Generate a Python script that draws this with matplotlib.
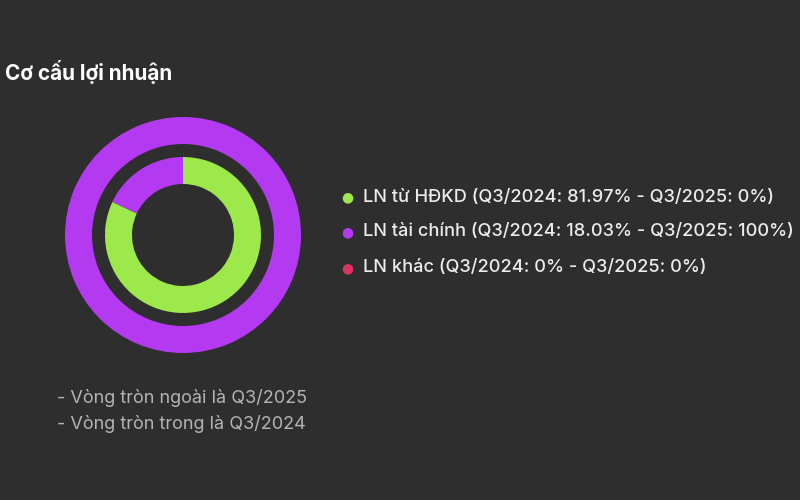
import matplotlib
matplotlib.use("Agg")
import matplotlib.pyplot as plt

plt.rcParams['font.family'] = ['Inter', 'DejaVu Sans']

# data
categories = ["LN từ HĐKD", "LN tài chính", "LN khác"]
q3_2024 = [81.97, 18.03, 0.0]
q3_2025 = [0.0, 100.0, 0.0]
colors = ["#9de84a", "#b43af2", "#e0325e"]
title = "Cơ cấu lợi nhuận"
notes = ["- Vòng tròn ngoài là Q3/2025", "- Vòng tròn trong là Q3/2024"]

BG = "#2e2e2e"
W, H = 800, 500

fig = plt.figure(figsize=(W / 100, H / 100), dpi=100)
fig.patch.set_facecolor(BG)

# donut axes: center (183, 235) px, radius 118 px
cx, cy, r = 183, 235, 118
ax = fig.add_axes([(cx - r) / W, (H - cy - r) / H, 2 * r / W, 2 * r / H])
ax.set_facecolor(BG)

ring_w = 27 / r
ax.pie(q3_2025, colors=colors, radius=1.0, startangle=90, counterclock=False,
       wedgeprops=dict(width=ring_w, linewidth=0))
ax.pie(q3_2024, colors=colors, radius=78 / r, startangle=90, counterclock=False,
       wedgeprops=dict(width=ring_w, linewidth=0))
ax.set_xlim(-1, 1)
ax.set_ylim(-1, 1)
ax.set_aspect("equal")
ax.axis("off")

fig.text(5 / W, 1 - 72 / H, title, color="white", fontsize=14.9,
         fontweight="bold", va="center", ha="left")

# legend
leg_y = [197, 232, 268]
for name, a, b, c, y in zip(categories, q3_2024, q3_2025, colors, leg_y):
    fig.text(347 / W, 1 - y / H, "●", color=c, fontsize=10,
             va="center", ha="center", family=['DejaVu Sans'])
    label = f"{name} (Q3/2024: {a:g}% - Q3/2025: {b:g}%)"
    fig.text(363 / W, 1 - y / H, label, color="#ececec", fontsize=13.1,
             fontweight="medium", va="center", ha="left")

for i, n in enumerate(notes):
    fig.text(57 / W, 1 - (398 + 26 * i) / H, n, color="#b4b4b4",
             fontsize=13.0, va="center", ha="left")

fig.savefig("out.png", dpi=100, facecolor=BG)
